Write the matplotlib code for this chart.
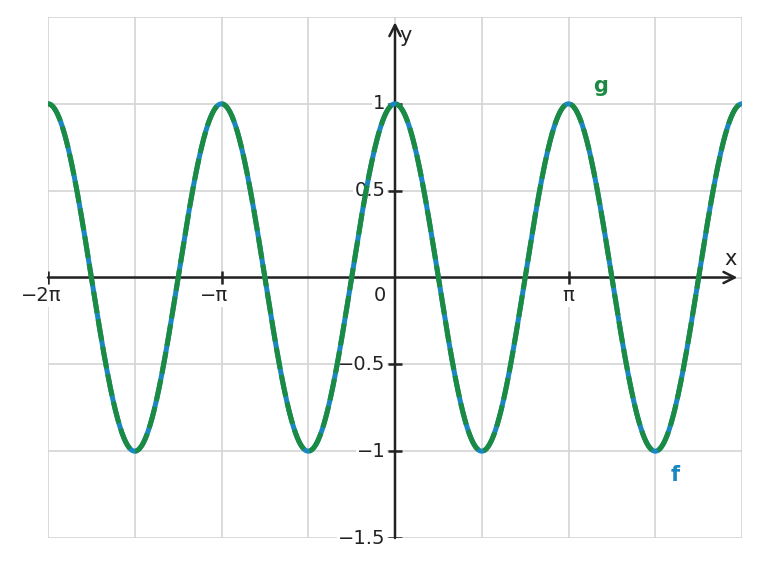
import numpy as np
import matplotlib
matplotlib.use("Agg")
import matplotlib.pyplot as plt
from matplotlib.transforms import offset_copy

# ---- data ----
amplitude = 1.0
frequency = 2.0
x_min, x_max = -2 * np.pi, 2 * np.pi
y_min, y_max = -1.5, 1.5
x_tick_vals = [-2 * np.pi, -np.pi, np.pi]
x_tick_labels = ["−2π", "−π", "π"]
y_tick_vals = [1, 0.5, -0.5, -1, -1.5]
y_tick_labels = ["1", "0.5", "−0.5", "−1", "−1.5"]
x_grid = np.arange(-4, 5) * np.pi / 2
y_grid = [-1.5, -1, -0.5, 0, 0.5, 1, 1.5]

x = np.linspace(x_min, x_max, 2000)
f = amplitude * np.cos(frequency * x)
g = amplitude * np.cos(frequency * x)

BLUE = "#1a87c2"
GREEN = "#1b8b42"
AX = "#222222"
FS = 14

plt.rcParams["font.family"] = "DejaVu Sans"
fig = plt.figure(figsize=(7.61, 5.67), dpi=100)
ax = fig.add_axes([48 / 761, 1 - 538 / 567, 694 / 761, 521 / 567])
ax.set_xlim(x_min, x_max)
ax.set_ylim(y_min, y_max)
for s in ax.spines.values():
    s.set_visible(False)
ax.set_xticks([])
ax.set_yticks([])

for xv in x_grid:
    ax.axvline(xv, color="#d4d4d4", lw=1.2, zorder=0)
for yv in y_grid:
    ax.axhline(yv, color="#d4d4d4", lw=1.2, zorder=0)

# axes with arrows
ax.annotate("", xy=(6.2, 0), xytext=(x_min, 0),
            arrowprops=dict(arrowstyle="->", color=AX, lw=1.8, mutation_scale=20, shrinkA=0, shrinkB=0),
            zorder=3)
ax.annotate("", xy=(0, 1.47), xytext=(0, y_min),
            arrowprops=dict(arrowstyle="->", color=AX, lw=1.8, mutation_scale=20, shrinkA=0, shrinkB=0),
            zorder=3)

tick_h = 0.04
tick_w = 0.12
minus_half = 0.838 * FS / 2 * 0.85  # points
for xv, lab in zip(x_tick_vals, x_tick_labels):
    ax.plot([xv, xv], [-tick_h, tick_h], color=AX, lw=1.8, zorder=3, solid_capstyle="butt")
    dx = -minus_half if lab.startswith("−") else 0
    tr = offset_copy(ax.transData, fig=fig, x=dx, y=0, units="points")
    ax.text(xv, -0.05, lab, ha="center", va="top", fontsize=FS, color=AX, transform=tr,
            bbox=dict(facecolor="white", edgecolor="none", pad=1), zorder=4)
for yv, lab in zip(y_tick_vals, y_tick_labels):
    ax.plot([-tick_w, tick_w], [yv, yv], color=AX, lw=1.8, zorder=3, solid_capstyle="butt")
    ax.text(-0.17, yv, lab, ha="right", va="center", fontsize=FS, color=AX,
            bbox=dict(facecolor="white", edgecolor="none", pad=1), zorder=4)
ax.text(-0.17, -0.05, "0", ha="right", va="top", fontsize=FS, color=AX, zorder=4)
ax.text(6.08, 0.05, "x", ha="center", va="bottom", fontsize=FS + 1, color=AX)
ax.text(0.08, 1.39, "y", ha="left", va="center", fontsize=FS + 1, color=AX)

ax.plot(x, f, color=BLUE, lw=3.6, zorder=5, solid_capstyle="round")
ax.plot(x, g, color=GREEN, lw=3.6, zorder=6, dashes=(4.4, 1.2))

ax.text(3.72, 1.10, "g", color=GREEN, fontsize=FS + 1, fontweight="bold", ha="center", va="center")
ax.text(5.07, -1.14, "f", color=BLUE, fontsize=FS + 1, fontweight="bold", ha="center", va="center")

fig.savefig("out.png", dpi=100)
